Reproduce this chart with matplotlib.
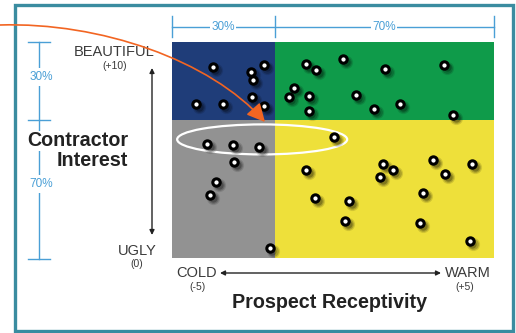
import matplotlib
matplotlib.use("Agg")
import matplotlib.pyplot as plt
from matplotlib.patches import Rectangle, Ellipse, FancyArrowPatch
from matplotlib.path import Path
from matplotlib.transforms import ScaledTranslation

plt.rcParams['font.family'] = ['Liberation Sans', 'DejaVu Sans']

# Receptivity runs from COLD (-5) to WARM (+5); interest from UGLY (0) to BEAUTIFUL (+10)
x_range = (-5, 5)
y_range = (0, 10)
x_split = -1.8
y_split = 6.4

# Prospects in each quadrant
cold_beautiful_x = [-3.73, -2.55, -2.14, -2.48, -2.52, -2.14, -4.25, -3.42]
cold_beautiful_y = [8.84, 8.61, 8.94, 8.24, 7.45, 7.04, 7.13, 7.13]

warm_beautiful_x = [-0.84, -0.53, 0.31, 1.61, -1.21, -1.37, -0.75, 0.71, -0.75, 1.27, 3.45, 2.08, 3.73]
warm_beautiful_y = [8.98, 8.70, 9.21, 8.75, 7.87, 7.45, 7.50, 7.55, 6.81, 6.90, 8.94, 7.13, 6.62]

cold_ugly_x = [-3.91, -3.11, -2.30, -3.07, -3.63, -3.82, -1.96]
cold_ugly_y = [5.28, 5.23, 5.14, 4.44, 3.52, 2.92, 0.46]

warm_ugly_x = [0.03, -0.84, 1.55, 1.46, -0.56, 0.50, 0.37, 1.86, 3.11, 4.32, 3.48, 2.80, 2.70, 4.25]
warm_ugly_y = [5.60, 4.07, 4.35, 3.75, 2.78, 2.64, 1.71, 4.07, 4.54, 4.35, 3.89, 3.01, 1.62, 0.79]

W, H = 516, 333
fig = plt.figure(figsize=(W / 100, H / 100), dpi=100)
fig.patch.set_facecolor('white')

# Background layer in pixel coordinates: frame, dimension guides, labels
bg = fig.add_axes([0, 0, 1, 1], zorder=-1)
bg.set_xlim(0, W)
bg.set_ylim(H, 0)
bg.axis('off')

bg.add_patch(Rectangle((14.5, 5), 498.5, 326, facecolor='white',
                       edgecolor='#3a8ca0', lw=2.4))

dim_color = '#4a9fd6'
dim_lw = 1.0
# top guide
bg.plot([172, 494], [27, 27], color=dim_color, lw=dim_lw)
for x in (172, 275, 494):
    bg.plot([x, x], [16, 37], color=dim_color, lw=dim_lw)
bg.text(223, 27, '30%', color=dim_color, fontsize=8.5, ha='center', va='center',
        bbox=dict(facecolor='white', edgecolor='none', pad=1.2))
bg.text(384, 27, '70%', color=dim_color, fontsize=8.5, ha='center', va='center',
        bbox=dict(facecolor='white', edgecolor='none', pad=1.2))
# left guide
bg.plot([39, 39], [42, 259], color=dim_color, lw=dim_lw)
for y in (42, 120, 259):
    bg.plot([28, 50], [y, y], color=dim_color, lw=dim_lw)
bg.text(41, 77, '30%', color=dim_color, fontsize=8.5, ha='center', va='center',
        bbox=dict(facecolor='white', edgecolor='none', pad=2.5))
bg.text(41, 184, '70%', color=dim_color, fontsize=8.5, ha='center', va='center',
        bbox=dict(facecolor='white', edgecolor='none', pad=2.5))

label_color = '#3a3a3a'
bg.text(128, 141, 'Contractor', color='#222222', fontsize=14.2, fontweight='bold',
        ha='right', va='center', bbox=dict(facecolor='white', edgecolor='none', pad=0.5))
bg.text(128, 160, 'Interest', color='#222222', fontsize=14.2, fontweight='bold',
        ha='right', va='center')
bg.text(330, 302, 'Prospect Receptivity', color='#222222', fontsize=14.2,
        fontweight='bold', ha='center', va='center')

bg.text(114, 52, 'BEAUTIFUL', color=label_color, fontsize=10.5, ha='center', va='center')
bg.text(115, 66, '(+10)', color=label_color, fontsize=7.5, ha='center', va='center')
bg.text(137, 251, 'UGLY', color=label_color, fontsize=10.5, ha='center', va='center')
bg.text(137, 264, '(0)', color=label_color, fontsize=7.5, ha='center', va='center')
bg.text(197, 273, 'COLD', color=label_color, fontsize=10.5, ha='center', va='center')
bg.text(197, 287, '(-5)', color=label_color, fontsize=7.5, ha='center', va='center')
bg.text(468, 273, 'WARM', color=label_color, fontsize=10.5, ha='center', va='center')
bg.text(465, 287, '(+5)', color=label_color, fontsize=7.5, ha='center', va='center')

bg.annotate('', xy=(152, 68), xytext=(152, 235),
            arrowprops=dict(arrowstyle='<|-|>', color='#222222', lw=1.0,
                            mutation_scale=7, shrinkA=0, shrinkB=0))
bg.annotate('', xy=(441, 273), xytext=(220, 273),
            arrowprops=dict(arrowstyle='<|-|>', color='#222222', lw=1.0,
                            mutation_scale=7, shrinkA=0, shrinkB=0))

# Quadrant plot
ax = fig.add_axes([172 / W, (H - 258) / H, 322 / W, 216 / H])
ax.set_xlim(*x_range)
ax.set_ylim(*y_range)
ax.axis('off')

quadrants = [
    (x_range[0], y_split, x_split - x_range[0], y_range[1] - y_split, '#1f3d79'),
    (x_split, y_split, x_range[1] - x_split, y_range[1] - y_split, '#0f9b4a'),
    (x_range[0], y_range[0], x_split - x_range[0], y_split - y_range[0], '#929292'),
    (x_split, y_range[0], x_range[1] - x_split, y_split - y_range[0], '#eee03a'),
]
for x0, y0, w, h, c in quadrants:
    ax.add_patch(Rectangle((x0, y0), w, h, facecolor=c, edgecolor='none', zorder=0))

ax.add_patch(Ellipse((-2.2, 5.49), 5.28, 1.39, facecolor='none',
                     edgecolor='white', lw=1.6, zorder=1))

all_x = cold_beautiful_x + warm_beautiful_x + cold_ugly_x + warm_ugly_x
all_y = cold_beautiful_y + warm_beautiful_y + cold_ugly_y + warm_ugly_y

# soft drop shadows below-right of each dot
for size, alpha, d in [(90, 0.12, 3.0), (60, 0.18, 3.0), (35, 0.25, 2.6)]:
    off = ax.transData + ScaledTranslation(d / 100, -d / 100, fig.dpi_scale_trans)
    ax.scatter(all_x, all_y, s=size, color='black', alpha=alpha, lw=0,
               transform=off, zorder=2)

ax.scatter(all_x, all_y, s=28, facecolor='white', edgecolor='black',
           lw=2.2, zorder=3)

# Highlight arrow on top
top = fig.add_axes([0, 0, 1, 1], zorder=3)
top.set_xlim(0, W)
top.set_ylim(H, 0)
top.axis('off')
top.patch.set_visible(False)

curve = Path([(0, 25), (100, 22), (210, 60), (265, 122)],
             [Path.MOVETO, Path.CURVE4, Path.CURVE4, Path.CURVE4])
top.add_patch(FancyArrowPatch(path=curve, arrowstyle='-|>,head_length=11,head_width=5.5',
                              color='#f26522', lw=1.2, transform=top.transData))

fig.savefig('out.png', dpi=100, facecolor='white')
